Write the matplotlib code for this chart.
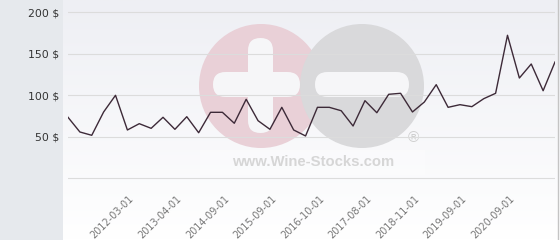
import numpy as np
import matplotlib
matplotlib.use("Agg")
import matplotlib.pyplot as plt
from matplotlib.patches import Circle, FancyBboxPatch, Rectangle
from matplotlib.colors import LinearSegmentedColormap
from matplotlib.transforms import ScaledTranslation

# prices, one per sale, evenly spaced on a category axis
prices = [73.5, 55.8, 51.8, 79.9, 100.0, 58.2, 65.8, 60.2, 73.5, 59.0,
          74.2, 54.9, 79.5, 79.5, 66.3, 95.2, 69.4, 59.0, 85.5, 58.2,
          51.0, 85.5, 85.5, 81.4, 63.0, 93.5, 79.0, 101.2, 102.4, 79.9,
          91.9, 112.8, 85.5, 88.7, 86.3, 95.9, 102.4, 172.3, 120.8, 137.7,
          105.5, 140.1]
label_idx = [5, 9, 13, 17, 21, 25, 29, 33, 37]
label_txt = ["2012-03-01", "2013-04-01", "2014-09-01", "2015-09-01",
             "2016-10-01", "2017-08-01", "2018-11-01", "2019-09-01",
             "2020-09-01"]
y_ticks = [0, 50, 100, 150, 200]
y_labels = ["", "50 $", "100 $", "150 $", "200 $"]

fig = plt.figure(figsize=(5.6, 2.4), dpi=100)

# background layer in pixel coords
bg = fig.add_axes([0, 0, 1, 1])
bg.set_xlim(0, 560)
bg.set_ylim(240, 0)
bg.axis("off")
grad = LinearSegmentedColormap.from_list("g", ["#eeeff4", "#ffffff"])
bg.imshow(np.linspace(0, 1, 200).reshape(-1, 1), extent=[63, 560, 240, 0],
          cmap=grad, aspect="auto")
bg.add_patch(Rectangle((0, 0), 63, 240, color="#e6e9ed", lw=0))
bg.plot([558, 558], [0, 240], color="#c4c4c4", lw=1)

# watermark
bar = "#f6f6f8"
rnd = "round,pad=0,rounding_size=12.5"
bg.add_patch(Circle((261, 86), 62, color="#e9d0d7", lw=0))
bg.add_patch(Circle((362, 86), 62, color="#d9d9db", lw=0))
bg.add_patch(FancyBboxPatch((213, 72), 87, 25, boxstyle=rnd, color=bar, lw=0))
bg.add_patch(FancyBboxPatch((248, 38), 25, 95, boxstyle=rnd, color=bar, lw=0))
bg.add_patch(FancyBboxPatch((315, 72), 94, 25, boxstyle=rnd, color=bar, lw=0))
bg.add_patch(Rectangle((200, 150), 225, 25, color="white", alpha=0.3, lw=0))
bg.text(313, 162, "www.Wine-Stocks.com", ha="center", va="center",
        fontsize=10.7, fontweight="bold", family="Liberation Sans", color="#d6d6d6")
bg.text(413, 138, "\u00ae", ha="center", va="center", fontsize=11,
        family="Liberation Sans", color="#cfcfcf")

ax = fig.add_axes([68 / 560, 50 / 240, 487 / 560, 190 / 240])
ax.patch.set_alpha(0)
x = np.arange(len(prices))
ax.plot(x, prices, color="#3d2a38", lw=1.0)
ax.set_xlim(0, len(prices) - 1)
ax.set_ylim(-14.1, 214.8)
for s in ax.spines.values():
    s.set_visible(False)
ax.set_yticks(y_ticks)
ax.set_yticklabels(y_labels, fontsize=7.8, color="#333333")
ax.grid(axis="y", color="#dcdcdc", lw=0.8)
ax.tick_params(axis="y", length=0, pad=6.5)
ax.set_xticks(label_idx)
ax.set_xticklabels(label_txt, fontsize=7, color="#777777")
ax.tick_params(axis="x", length=0, pad=5)
shift = ScaledTranslation(5 / 100, 0, fig.dpi_scale_trans)
for lab in ax.get_xticklabels():
    lab.set_rotation(45)
    lab.set_ha("right")
    lab.set_va("center")
    lab.set_rotation_mode("anchor")
    lab.set_transform(lab.get_transform() + shift)

fig.savefig("out.png", dpi=100)
